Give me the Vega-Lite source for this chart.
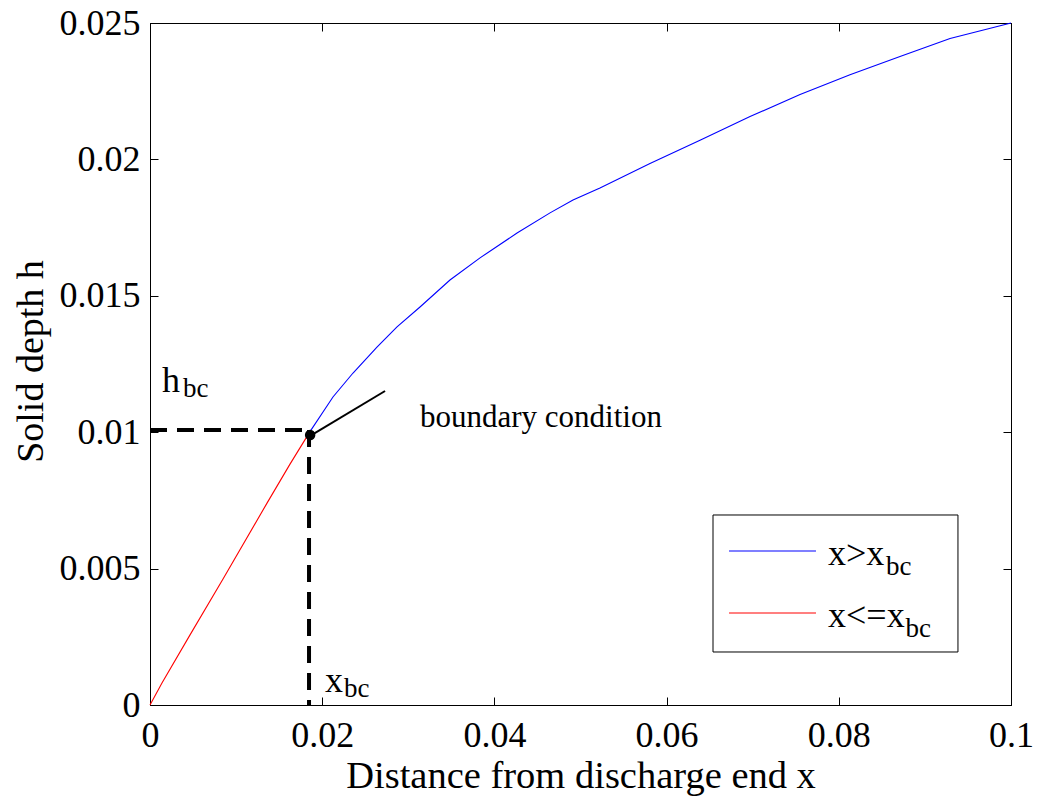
{
  "$schema": "https://vega.github.io/schema/vega-lite/v6.json",
  "width": 861,
  "height": 682,
  "autosize": "none",
  "padding": {"left": 150, "top": 23, "right": 29, "bottom": 94},
  "background": "white",
  "config": {
    "view": {"stroke": "black", "strokeWidth": 1},
    "font": "Liberation Serif",
    "axis": {
      "grid": false,
      "domainColor": "black",
      "tickColor": "black",
      "tickSize": -8,
      "labelFlush": false,
      "labelFont": "Liberation Serif",
      "labelFontSize": 36,
      "labelColor": "black",
      "titleFont": "Liberation Serif",
      "titleFontSize": 38.5,
      "titleFontWeight": "normal",
      "titleColor": "black"
    }
  },
  "datasets": {
    "curve": [
      {"x": 0, "h": 0, "seg": "x<=xbc"},
      {"x": 0.00139, "h": 0.00081, "seg": "x<=xbc"},
      {"x": 0.00465, "h": 0.00257, "seg": "x<=xbc"},
      {"x": 0.00848, "h": 0.00462, "seg": "x<=xbc"},
      {"x": 0.01359, "h": 0.0074, "seg": "x<=xbc"},
      {"x": 0.01626, "h": 0.00883, "seg": "x<=xbc"},
      {"x": 0.01858, "h": 0.01002, "seg": "x<=xbc"},
      {"x": 0.01858, "h": 0.01002, "seg": "x>xbc"},
      {"x": 0.02125, "h": 0.01129, "seg": "x>xbc"},
      {"x": 0.02358, "h": 0.01217, "seg": "x>xbc"},
      {"x": 0.02636, "h": 0.01312, "seg": "x>xbc"},
      {"x": 0.02869, "h": 0.01386, "seg": "x>xbc"},
      {"x": 0.03136, "h": 0.01459, "seg": "x>xbc"},
      {"x": 0.03484, "h": 0.01558, "seg": "x>xbc"},
      {"x": 0.03833, "h": 0.01639, "seg": "x>xbc"},
      {"x": 0.04263, "h": 0.0173, "seg": "x>xbc"},
      {"x": 0.04646, "h": 0.01804, "seg": "x>xbc"},
      {"x": 0.04913, "h": 0.01851, "seg": "x>xbc"},
      {"x": 0.05226, "h": 0.01895, "seg": "x>xbc"},
      {"x": 0.05807, "h": 0.01985, "seg": "x>xbc"},
      {"x": 0.06388, "h": 0.0207, "seg": "x>xbc"},
      {"x": 0.06969, "h": 0.02157, "seg": "x>xbc"},
      {"x": 0.0755, "h": 0.02238, "seg": "x>xbc"},
      {"x": 0.0813, "h": 0.0231, "seg": "x>xbc"},
      {"x": 0.08711, "h": 0.02377, "seg": "x>xbc"},
      {"x": 0.09292, "h": 0.02443, "seg": "x>xbc"},
      {"x": 0.1, "h": 0.025, "seg": "x>xbc"}
    ],
    "dashes": [
      {"x": 0, "h": 0.01008, "x2": 0.0185, "h2": 0.01008},
      {"x": 0.01847, "h": 0.01008, "x2": 0.01847, "h2": 0}
    ],
    "pointer": [
      {"x": 0.0188, "h": 0.0099, "x2": 0.0273, "h2": 0.01151}
    ],
    "bcpoint": [
      {"x": 0.0186, "h": 0.0099}
    ],
    "bigtext": [
      {"x": 0.00139, "h": 0.01147, "label": "h"},
      {"x": 0.02033, "h": 0.000477, "label": "x"},
      {"x": 0.07875, "h": 0.00513, "label": "x>x"},
      {"x": 0.07875, "h": 0.00286, "label": "x<=x"}
    ],
    "subtext": [
      {"x": 0.00383, "h": 0.01129, "label": "bc"},
      {"x": 0.02253, "h": 0.000293, "label": "bc"},
      {"x": 0.08548, "h": 0.004765, "label": "bc"},
      {"x": 0.08775, "h": 0.00249, "label": "bc"}
    ],
    "note": [
      {"x": 0.03136, "h": 0.01019, "label": "boundary condition"}
    ],
    "legendbox": [
      {"x": 0.06539, "h": 0.001943, "x2": 0.09384, "h2": 0.006965}
    ],
    "legendlines": [
      {"x": 0.06725, "x2": 0.07735, "h": 0.005645, "seg": "x>xbc"},
      {"x": 0.06725, "x2": 0.07735, "h": 0.003372, "seg": "x<=xbc"}
    ]
  },
  "resolve": {"axis": {"x": "independent", "y": "independent"}},
  "layer": [
    {
      "data": {"name": "curve"},
      "mark": {"type": "line", "strokeWidth": 1.1},
      "encoding": {
        "x": {
          "field": "x", "type": "quantitative",
          "scale": {"domain": [0, 0.1], "nice": false, "zero": false},
          "axis": {
            "orient": "bottom", "values": [0, 0.02, 0.04, 0.06, 0.08, 0.1],
            "format": "~g", "labelPadding": 21, "title": "Distance from discharge end x",
            "titleBaseline": "alphabetic", "titleY": 82
          }
        },
        "y": {
          "field": "h", "type": "quantitative",
          "scale": {"domain": [0, 0.025], "nice": false, "zero": false},
          "axis": {
            "orient": "left", "values": [0, 0.005, 0.01, 0.015, 0.02, 0.025],
            "format": "~g", "labelPadding": 18, "title": "Solid depth h",
            "titleFontSize": 38,
            "titleBaseline": "alphabetic", "titleAngle": -90, "titleX": -108, "titleY": 338,
            "titleAlign": "center"
          }
        },
        "color": {
          "field": "seg", "type": "nominal",
          "scale": {"domain": ["x>xbc", "x<=xbc"], "range": ["#0000ff", "#ff0000"]},
          "legend": null
        },
        "detail": {"field": "seg"}
      }
    },
    {
      "data": {"name": "dashes"},
      "mark": {"type": "rule", "strokeWidth": 4, "strokeDash": [17, 10], "color": "black"},
      "encoding": {
        "x": {"field": "x", "type": "quantitative",
          "axis": {"orient": "top", "values": [0, 0.02, 0.04, 0.06, 0.08, 0.1], "labels": false, "title": null}},
        "y": {"field": "h", "type": "quantitative",
          "axis": {"orient": "right", "values": [0, 0.005, 0.01, 0.015, 0.02, 0.025], "labels": false, "title": null}},
        "x2": {"field": "x2"},
        "y2": {"field": "h2"}
      }
    },
    {
      "data": {"name": "pointer"},
      "mark": {"type": "rule", "strokeWidth": 2, "color": "black"},
      "encoding": {
        "x": {"field": "x", "type": "quantitative", "axis": null},
        "y": {"field": "h", "type": "quantitative", "axis": null},
        "x2": {"field": "x2"},
        "y2": {"field": "h2"}
      }
    },
    {
      "data": {"name": "bcpoint"},
      "mark": {"type": "circle", "size": 110, "color": "black", "opacity": 1},
      "encoding": {
        "x": {"field": "x", "type": "quantitative", "axis": null},
        "y": {"field": "h", "type": "quantitative", "axis": null}
      }
    },
    {
      "data": {"name": "legendbox"},
      "mark": {"type": "rect", "fill": "white", "stroke": "black", "strokeWidth": 1},
      "encoding": {
        "x": {"field": "x", "type": "quantitative", "axis": null},
        "y": {"field": "h", "type": "quantitative", "axis": null},
        "x2": {"field": "x2"},
        "y2": {"field": "h2"}
      }
    },
    {
      "data": {"name": "legendlines"},
      "mark": {"type": "rule", "strokeWidth": 1.1},
      "encoding": {
        "x": {"field": "x", "type": "quantitative", "axis": null},
        "y": {"field": "h", "type": "quantitative", "axis": null},
        "x2": {"field": "x2"},
        "color": {"field": "seg", "type": "nominal", "legend": null}
      }
    },
    {
      "data": {"name": "bigtext"},
      "mark": {"type": "text", "font": "Liberation Serif", "fontSize": 36, "align": "left", "baseline": "alphabetic", "color": "black"},
      "encoding": {
        "x": {"field": "x", "type": "quantitative", "axis": null},
        "y": {"field": "h", "type": "quantitative", "axis": null},
        "text": {"field": "label"}
      }
    },
    {
      "data": {"name": "subtext"},
      "mark": {"type": "text", "font": "Liberation Serif", "fontSize": 27, "align": "left", "baseline": "alphabetic", "color": "black"},
      "encoding": {
        "x": {"field": "x", "type": "quantitative", "axis": null},
        "y": {"field": "h", "type": "quantitative", "axis": null},
        "text": {"field": "label"}
      }
    },
    {
      "data": {"name": "note"},
      "mark": {"type": "text", "font": "Liberation Serif", "fontSize": 31, "align": "left", "baseline": "alphabetic", "color": "black"},
      "encoding": {
        "x": {"field": "x", "type": "quantitative", "axis": null},
        "y": {"field": "h", "type": "quantitative", "axis": null},
        "text": {"field": "label"}
      }
    }
  ]
}
